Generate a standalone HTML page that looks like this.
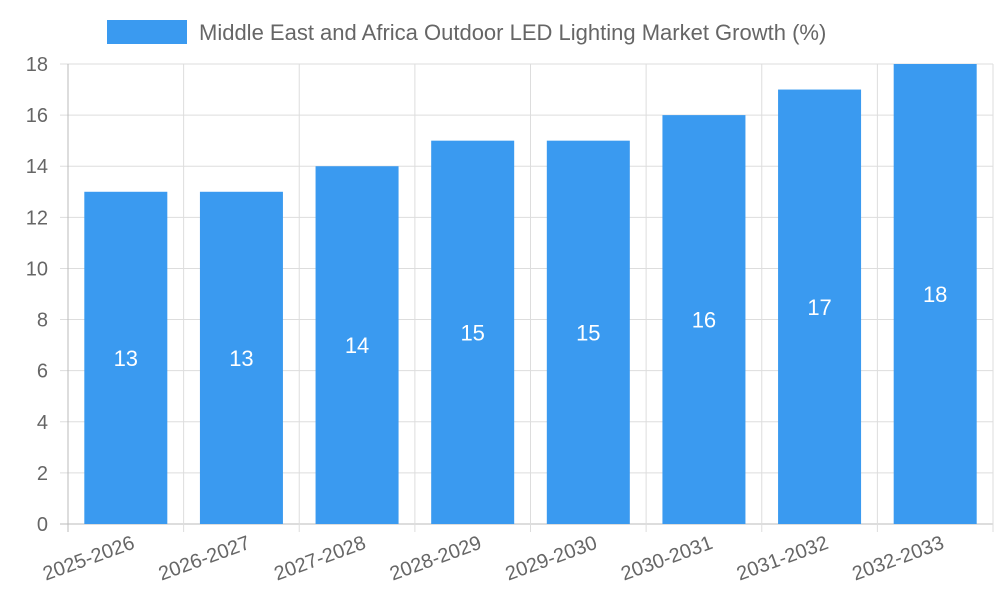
<!DOCTYPE html>
<html><head><meta charset="utf-8"><style>
html,body{margin:0;padding:0;background:#fff;}
svg{display:block;font-family:"Liberation Sans",sans-serif;}
</style></head><body>
<svg id="chart" width="1000" height="600">
<g id="legend">
<rect x="107" y="20" width="80" height="24" fill="#3a9af0"></rect>
<text x="199" y="40" font-size="22" fill="#666">Middle East and Africa Outdoor LED Lighting Market Growth (%)</text>
</g>
<g id="grid"></g><g id="bars"></g><g id="axes"></g>
</svg>
<script>
const categories = ["2025-2026","2026-2027","2027-2028","2028-2029","2029-2030","2030-2031","2031-2032","2032-2033"];
const values = [13,13,14,15,15,16,17,18];
const yTicks = [0,2,4,6,8,10,12,14,16,18];
const NS="http://www.w3.org/2000/svg";
const L=68,R=993,T=64,B=524,yMax=18;
const bw=(R-L)/categories.length;
const y=v=>B-(v/yMax)*(B-T);
const x=i=>L+i*bw;
function mk(tag,attrs,parent,txt){const e=document.createElementNS(NS,tag);for(const k in attrs)e.setAttribute(k,attrs[k]);if(txt!==undefined)e.textContent=txt;parent.appendChild(e);return e;}
const grid=document.getElementById('grid'),bars=document.getElementById('bars'),axes=document.getElementById('axes');
yTicks.forEach(t=>{
  const l=mk('line',{x1:60,x2:R,y1:y(t),y2:y(t),stroke:t===0?'#bbb':'#ddd','stroke-width':1},grid);
  
  
  const tx=mk('text',{x:48,y:y(t)+7,'text-anchor':'end','font-size':20,fill:'#666'},axes,String(t));
  
  
});
for(let i=0;i<=categories.length;i++){
  const l=mk('line',{x1:x(i),x2:x(i),y1:T,y2:B+8,stroke:i===0?'#bbb':'#ddd','stroke-width':1},grid);
  
  
}
categories.forEach((c,i)=>{
  const cx=x(i)+bw/2, w=83;
  const r=mk('rect',{x:cx-w/2,y:y(values[i]),width:w,height:B-y(values[i]),fill:'#3a9af0'},bars);
  
  
  const v=mk('text',{x:cx,y:(y(values[i])+B)/2+8,'text-anchor':'middle','font-size':22,fill:'#fff'},bars,String(values[i]));
  
  
  const lx=cx+10, ly=548;
  const t=mk('text',{x:lx,y:ly,'text-anchor':'end','font-size':20,fill:'#666',transform:`rotate(-20 ${lx} ${ly})`},axes,c);
  
  
});
</script>
</body></html>
